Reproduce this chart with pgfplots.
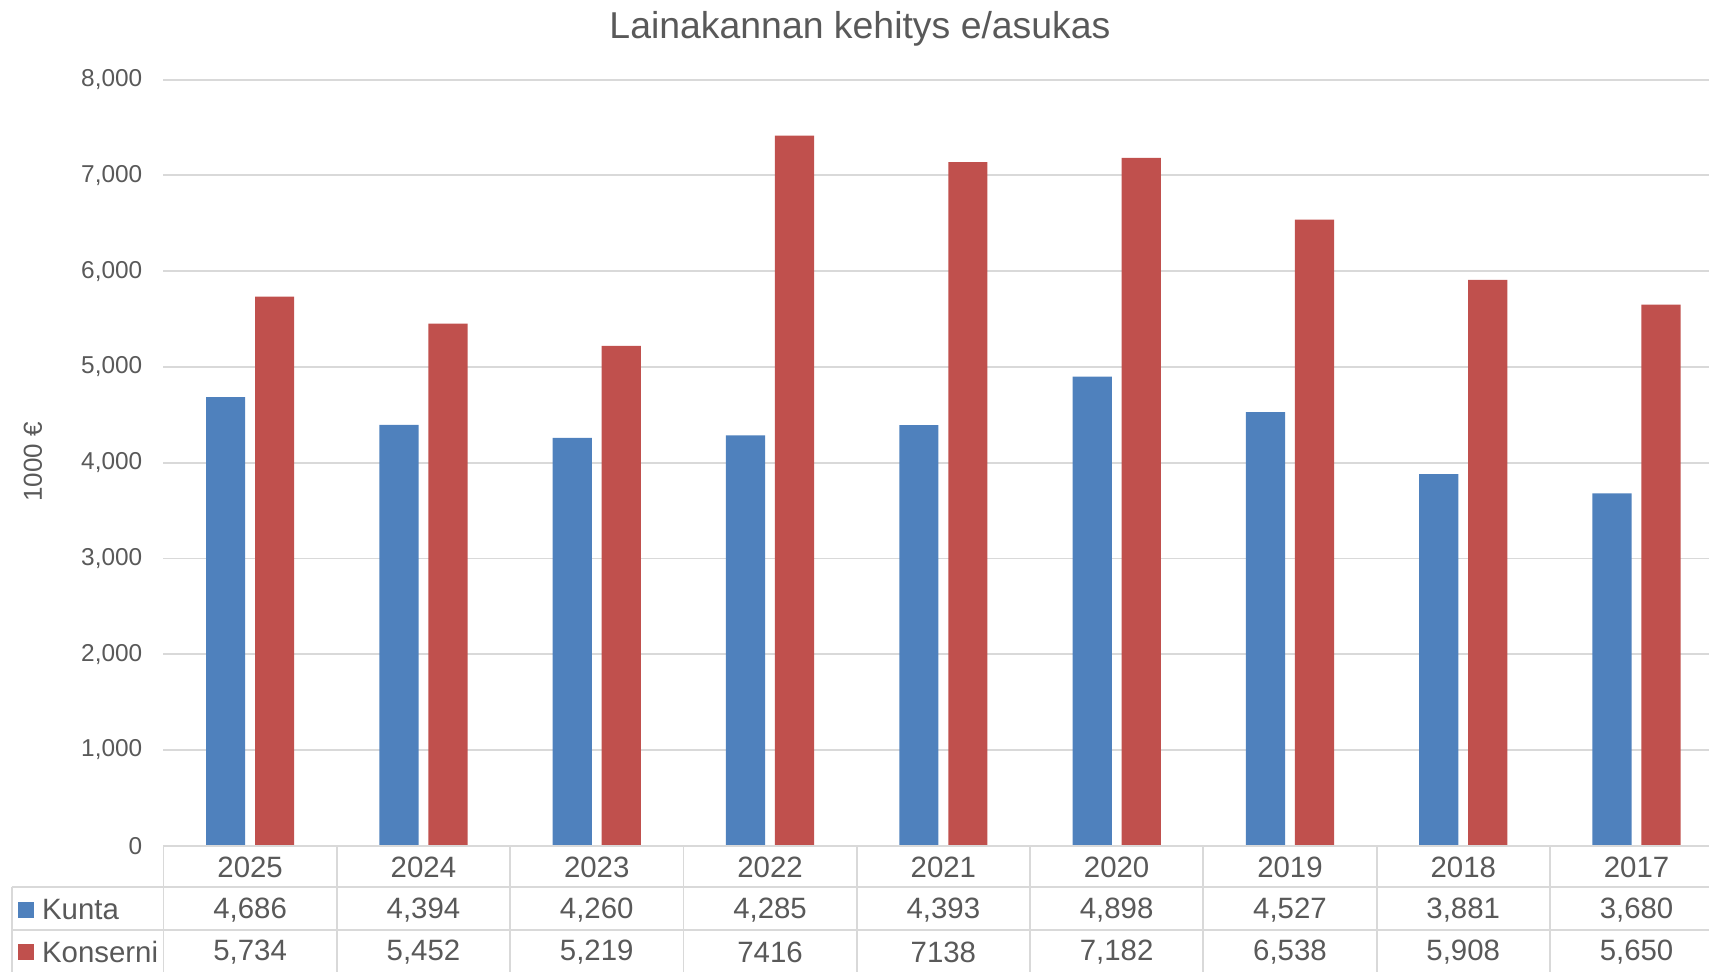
\documentclass[border=0pt]{standalone}
\usepackage{pgfplots}
\pgfplotsset{compat=1.18}
\usepackage{fontspec}
\setmainfont{Liberation Sans}
\definecolor{kblue}{HTML}{4F81BD}
\definecolor{kred}{HTML}{C0504D}
\definecolor{gridc}{HTML}{D9D9D9}
\definecolor{txt}{HTML}{595959}
\begin{document}
\begin{tikzpicture}
\begin{axis}[
  at={(0,0)}, anchor=south west,
  width=772.75pt, height=383.1pt, scale only axis,
  xmin=-0.5, xmax=8.418, ymin=0, ymax=8000,
  ybar=4.9pt, bar width=19.6pt,
  axis line style={draw=none},
  tick style={draw=none},
  xtick=\empty,
  ytick={0,1000,...,8000},
  ymajorgrids, grid style={gridc, line width=0.9pt},
  /pgf/number format/assume math mode=true,
  /pgf/number format/1000 sep={,},
  yticklabel style={font=\fontsize{12.2}{14}\selectfont, text=txt, inner sep=0pt, anchor=east, xshift=-10.4pt},
  clip=false,
]
\addplot[fill=kblue, draw=none] coordinates {(0,4686) (1,4394) (2,4260) (3,4285) (4,4393) (5,4898) (6,4527) (7,3881) (8,3680)};
\addplot[fill=kred, draw=none] coordinates {(0,5734) (1,5452) (2,5219) (3,7416) (4,7138) (5,7182) (6,6538) (7,5908) (8,5650)};
% table lines
\draw[gridc, line width=0.9pt] (axis cs:-0.5,0) -- (rel axis cs:1,0);
\draw[gridc, line width=0.9pt] ([xshift=-75.9pt,yshift=-20.45pt]axis cs:-0.5,0) -- ([yshift=-20.45pt]rel axis cs:1,0);
\draw[gridc, line width=0.9pt] ([xshift=-75.9pt,yshift=-42.1pt]axis cs:-0.5,0) -- ([yshift=-42.1pt]rel axis cs:1,0);
\draw[gridc, line width=0.9pt] ([xshift=-75.9pt,yshift=-20.45pt]axis cs:-0.5,0) -- ([xshift=-75.9pt,yshift=-70pt]axis cs:-0.5,0);
\pgfplotsinvokeforeach{-0.5,0.5,1.5,2.5,3.5,4.5,5.5,6.5,7.5}{
  \draw[gridc, line width=0.9pt] (axis cs:#1,0) -- ([yshift=-70pt]axis cs:#1,0);
}
% legend keys
\fill[kblue] ([xshift=-72.6pt,yshift=-36.1pt]axis cs:-0.5,0) rectangle ++(8pt,8pt);
\fill[kred] ([xshift=-72.6pt,yshift=-57.1pt]axis cs:-0.5,0) rectangle ++(8pt,8pt);
\begin{scope}[every node/.style={font=\fontsize{14.7}{17}\selectfont, text=txt, inner sep=0pt}]
\node[anchor=west] at ([xshift=-60.9pt,yshift=-32.1pt]axis cs:-0.5,0) {Kunta};
\node[anchor=west] at ([xshift=-60.9pt,yshift=-53.1pt]axis cs:-0.5,0) {Konserni};
% header
\node at ([yshift=-10.8pt]axis cs:0,0) {2025};
\node at ([yshift=-10.8pt]axis cs:1,0) {2024};
\node at ([yshift=-10.8pt]axis cs:2,0) {2023};
\node at ([yshift=-10.8pt]axis cs:3,0) {2022};
\node at ([yshift=-10.8pt]axis cs:4,0) {2021};
\node at ([yshift=-10.8pt]axis cs:5,0) {2020};
\node at ([yshift=-10.8pt]axis cs:6,0) {2019};
\node at ([yshift=-10.8pt]axis cs:7,0) {2018};
\node at ([yshift=-10.8pt]axis cs:8,0) {2017};
% Kunta
\node at ([yshift=-32.1pt]axis cs:0,0) {4,686};
\node at ([yshift=-32.1pt]axis cs:1,0) {4,394};
\node at ([yshift=-32.1pt]axis cs:2,0) {4,260};
\node at ([yshift=-32.1pt]axis cs:3,0) {4,285};
\node at ([yshift=-32.1pt]axis cs:4,0) {4,393};
\node at ([yshift=-32.1pt]axis cs:5,0) {4,898};
\node at ([yshift=-32.1pt]axis cs:6,0) {4,527};
\node at ([yshift=-32.1pt]axis cs:7,0) {3,881};
\node at ([yshift=-32.1pt]axis cs:8,0) {3,680};
% Konserni
\node at ([yshift=-53.1pt]axis cs:0,0) {5,734};
\node at ([yshift=-53.1pt]axis cs:1,0) {5,452};
\node at ([yshift=-53.1pt]axis cs:2,0) {5,219};
\node at ([yshift=-53.1pt]axis cs:3,0) {7416};
\node at ([yshift=-53.1pt]axis cs:4,0) {7138};
\node at ([yshift=-53.1pt]axis cs:5,0) {7,182};
\node at ([yshift=-53.1pt]axis cs:6,0) {6,538};
\node at ([yshift=-53.1pt]axis cs:7,0) {5,908};
\node at ([yshift=-53.1pt]axis cs:8,0) {5,650};
\end{scope}
\end{axis}
\node[anchor=base, font=\fontsize{18.7}{22}\selectfont, text=txt] at (348.25pt,403.4pt) {Lainakannan kehitys e/asukas};
\node[rotate=90, font=\fontsize{13}{15}\selectfont, text=txt] at (-65.25pt,192pt) {1000 €};
\pgfresetboundingbox
\useasboundingbox (-81.75pt,-62.6pt) rectangle (772.75pt,422.9pt);
\end{tikzpicture}
\end{document}
